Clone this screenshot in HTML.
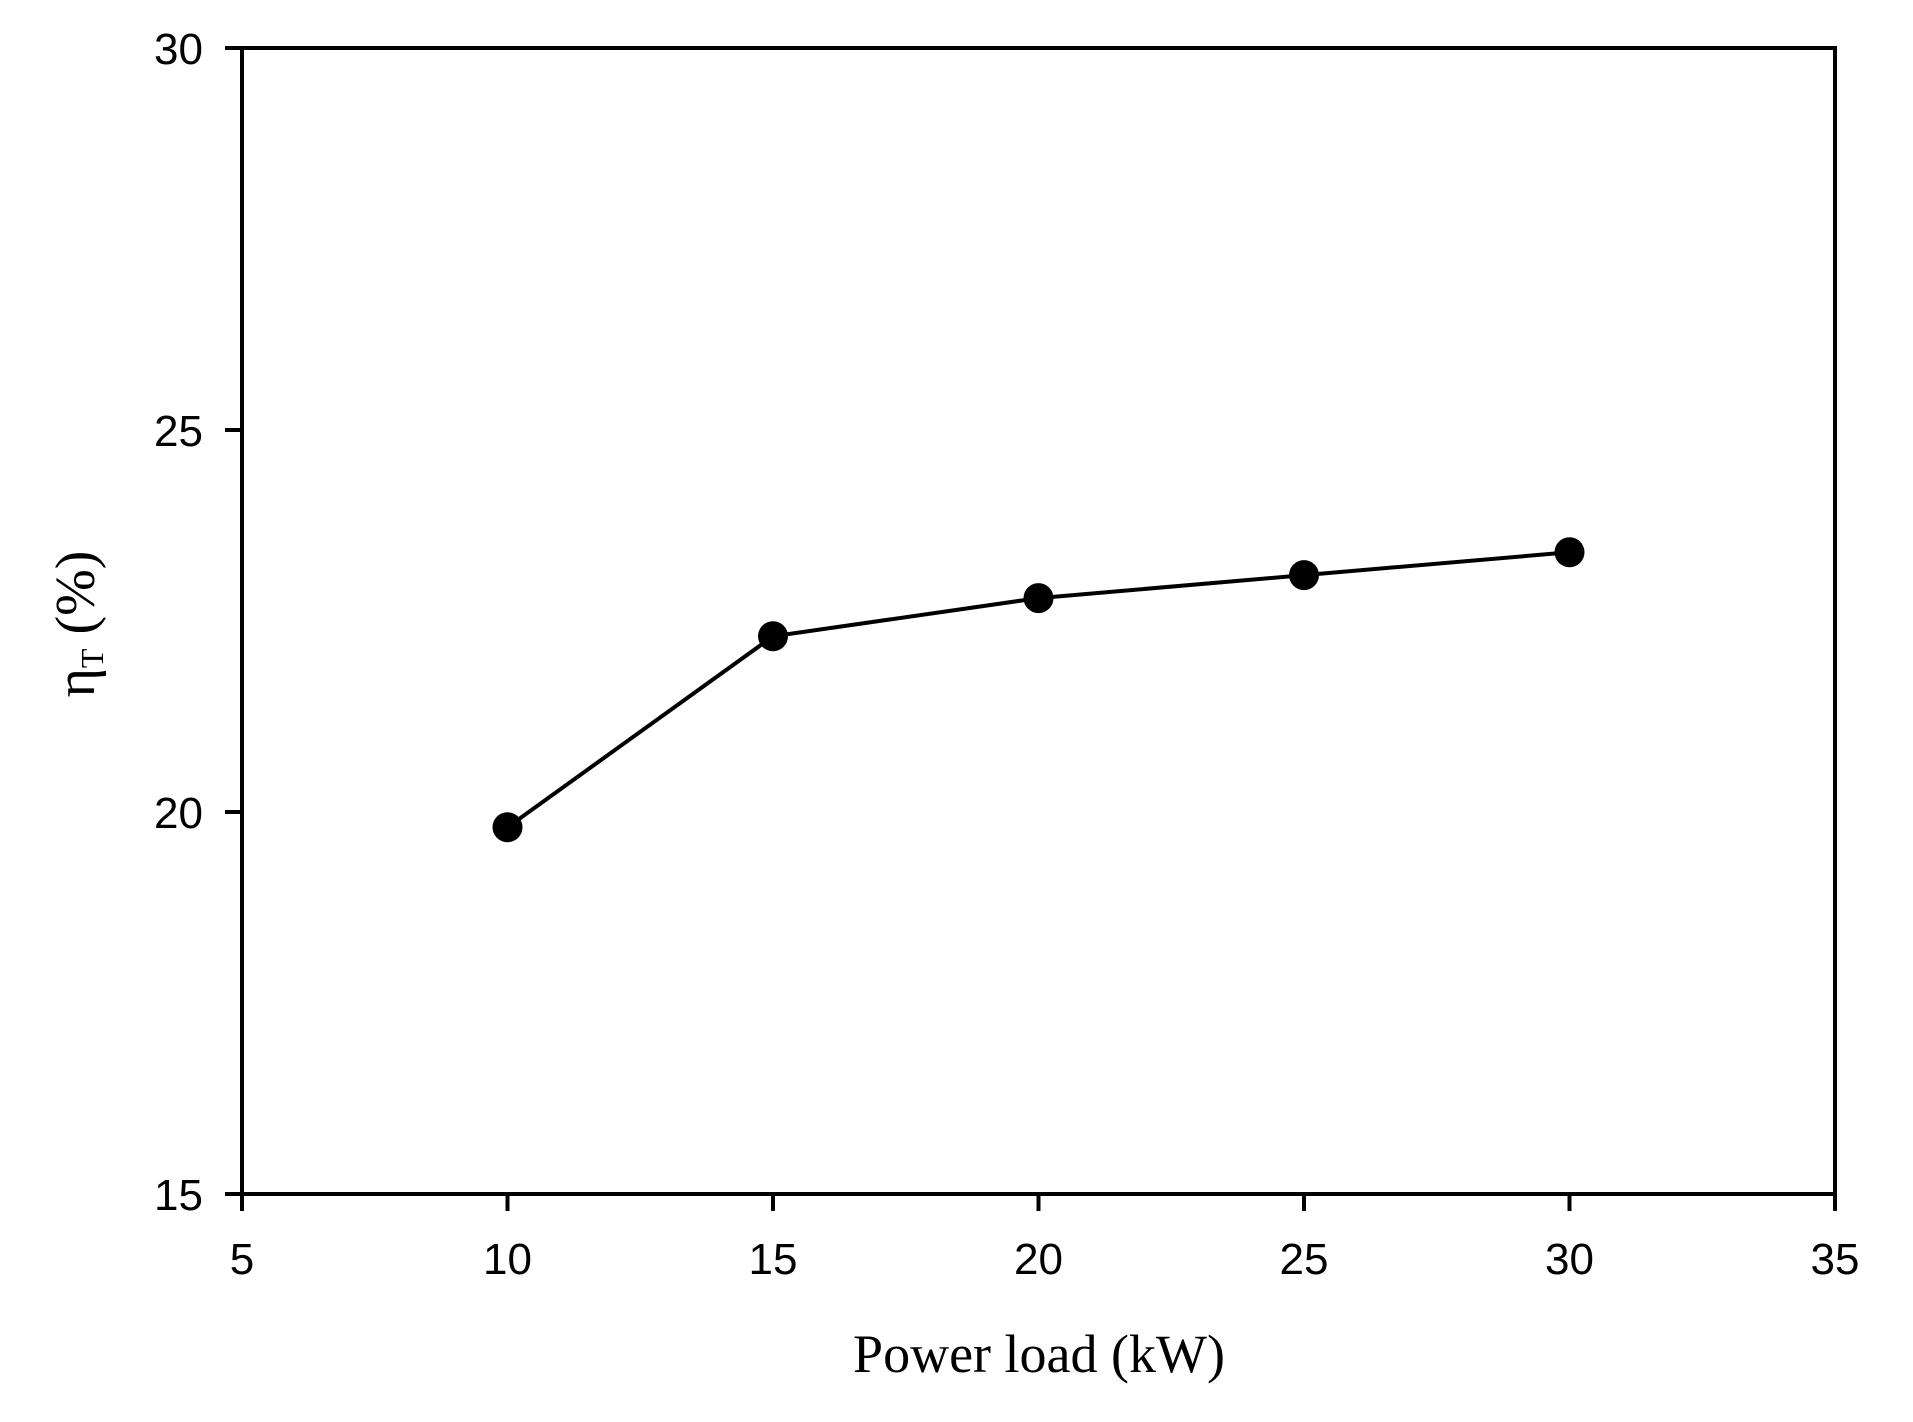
<!DOCTYPE html>
<html><head><meta charset="utf-8"><style>
html,body{margin:0;padding:0;background:#fff;}
svg{display:block;}
</style></head><body>
<svg id="chart" width="1913" height="1422" viewBox="0 0 1913 1422" xmlns="http://www.w3.org/2000/svg">
<g id="axes"></g>
<g id="series"></g>
<text x="1039" y="1372" text-anchor="middle" font-family="Liberation Serif, serif" font-size="54">Power load (kW)</text>
<text transform="translate(94,624) rotate(-90)" text-anchor="middle" font-family="Liberation Serif, serif" font-size="56">η<tspan font-size="32" dy="9">T</tspan><tspan dy="-9"> (%)</tspan></text>
</svg>
<script>
const xValues = [10, 15, 20, 25, 30];
const yValues = [19.8, 22.3, 22.8, 23.1, 23.4];
const xTicks = [5, 10, 15, 20, 25, 30, 35];
const yTicks = [15, 20, 25, 30];

const L = 242, R = 1835, T = 48, B = 1194;
const xMin = 5, xMax = 35, yMin = 15, yMax = 30;
function xs(v){ return L + (v - xMin) / (xMax - xMin) * (R - L); }
function ys(v){ return B - (v - yMin) / (yMax - yMin) * (B - T); }
const NS = 'http://www.w3.org/2000/svg';
function mk(tag, attrs, parent){
  const e = document.createElementNS(NS, tag);
  for (const k in attrs) e.setAttribute(k, attrs[k]);
  parent.appendChild(e);
  return e;
}
const axes = document.getElementById('axes');
const frame = mk('rect', {x:L, y:T, width:R-L, height:B-T, fill:'none', stroke:'#000', 'stroke-width':4}, axes);


xTicks.forEach(t => {
  const x = xs(t);
  const tk = mk('line', {x1:x, y1:B, x2:x, y2:B+17, stroke:'#000', 'stroke-width':4}, axes);
  
  
  const lb = mk('text', {x:x, y:1274, 'text-anchor':'middle', 'font-family':'Liberation Sans, sans-serif', 'font-size':44}, axes);
  lb.textContent = t;
  
  
});
yTicks.forEach(t => {
  const y = ys(t);
  const tk = mk('line', {x1:L-17, y1:y, x2:L, y2:y, stroke:'#000', 'stroke-width':4}, axes);
  
  
  const lb = mk('text', {x:203, y:y+16, 'text-anchor':'end', 'font-family':'Liberation Sans, sans-serif', 'font-size':44}, axes);
  lb.textContent = t;
  
  
});
const series = document.getElementById('series');
const pts = xValues.map((v,i) => xs(v) + ',' + ys(yValues[i])).join(' ');
const line = mk('polyline', {points:pts, fill:'none', stroke:'#000', 'stroke-width':4}, series);


xValues.forEach((v,i) => {
  const c = mk('circle', {cx:xs(v), cy:ys(yValues[i]), r:15, fill:'#000'}, series);
  
  
});
</script>
</body></html>
